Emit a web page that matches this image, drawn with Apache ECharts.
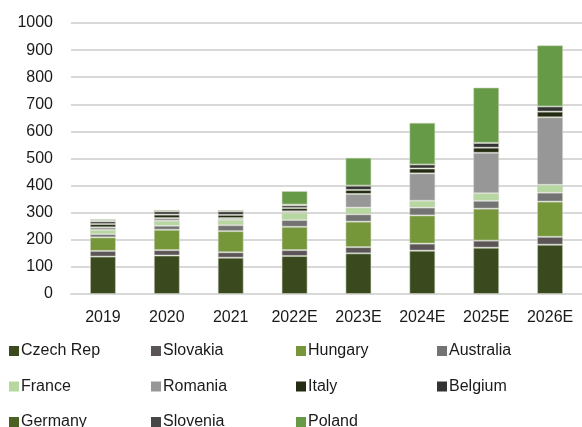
<!DOCTYPE html>
<html>
<head>
<meta charset="utf-8">
<script src="https://cdn.jsdelivr.net/npm/echarts@6/dist/echarts.min.js"></script>
<style>
  html, body { margin: 0; padding: 0; background: #fff; }
  #chart { width: 582px; height: 427px; }
</style>
</head>
<body>
<div id="chart"></div>
<script>
// Years on the category axis
const years = ['2019', '2020', '2021', '2022E', '2023E', '2024E', '2025E', '2026E'];

// Stacked values per country (bottom to top)
const czechRep  = [138, 142, 134, 140, 150, 160, 171, 182];
const slovakia  = [21, 20, 20, 22, 23, 26, 26, 29];
const hungary   = [50, 75, 78, 86, 94, 104, 118, 130];
const australia = [12, 15, 22, 25, 27, 29, 29, 33];
const france    = [15, 18, 20, 27, 25, 25, 28, 29];
const romania   = [10, 10, 6, 5, 50, 101, 149, 249];
const italy     = [12, 13, 12, 12, 15, 18, 19, 21];
const belgium   = [10, 12, 13, 10, 16, 15, 18, 19];
const germany   = [3, 0, 0, 0, 0, 0, 0, 0];
const slovenia  = [2, 0, 0, 3, 0, 0, 0, 0];
const poland    = [4, 5, 5, 50, 103, 154, 204, 226];

// Value axis ticks
const yMin = 0, yMax = 1000, yStep = 100;

const seriesDefs = [
  ['Czech Rep', czechRep,  '#3a4a1e'],
  ['Slovakia',  slovakia,  '#5b5557'],
  ['Hungary',   hungary,   '#76963a'],
  ['Australia', australia, '#737373'],
  ['France',    france,    '#b6d7a0'],
  ['Romania',   romania,   '#979797'],
  ['Italy',     italy,     '#232b12'],
  ['Belgium',   belgium,   '#333333'],
  ['Germany',   germany,   '#4b6123'],
  ['Slovenia',  slovenia,  '#474747'],
  ['Poland',    poland,    '#679a47']
];

const font = '"Liberation Sans", Arial, sans-serif';

const series = seriesDefs.map(([name, data, color]) => ({
  name: name,
  type: 'bar',
  stack: 'total',
  data: data,
  barWidth: 26,
  itemStyle: { color: color, borderColor: 'rgba(205,212,195,0.55)', borderWidth: 1 },
  emphasis: { disabled: true }
}));

// Legend laid out in four columns
const legendCols = [
  { left: 9,   names: ['Czech Rep', 'France', 'Germany'] },
  { left: 151, names: ['Slovakia', 'Romania', 'Slovenia'] },
  { left: 296, names: ['Hungary', 'Italy', 'Poland'] },
  { left: 437, names: ['Australia', 'Belgium'] }
];

const legends = legendCols.map(col => ({
  orient: 'vertical',
  left: col.left,
  top: 343,
  height: 140,
  padding: 0,
  itemWidth: 10,
  itemHeight: 10,
  itemGap: 19.5,
  icon: 'rect',
  selectedMode: false,
  data: col.names,
  itemStyle: { borderWidth: 0 },
  textStyle: { fontFamily: font, fontSize: 16, color: '#1a1a1a', lineHeight: 16, padding: [0, 0, 0, -3] }
}));

const chart = echarts.init(document.getElementById('chart'), null, { renderer: 'canvas' });
chart.setOption({
  animation: false,
  backgroundColor: '#fff',
  legend: legends,
  grid: { left: 71, top: 23, width: 515, height: 271, containLabel: false },
  xAxis: {
    type: 'category',
    data: years,
    axisLine: { show: true, lineStyle: { color: '#d9d9d9', width: 2 } },
    axisTick: { show: false },
    axisLabel: { fontFamily: font, fontSize: 16, color: '#1a1a1a', margin: 16 }
  },
  yAxis: {
    type: 'value',
    min: yMin,
    max: yMax,
    interval: yStep,
    axisLine: { show: false },
    axisTick: { show: false },
    splitLine: { lineStyle: { color: '#d9d9d9', width: 2 } },
    axisLabel: { fontFamily: font, fontSize: 16, color: '#1a1a1a', margin: 18, formatter: v => String(v) }
  },
  series: series
});
</script>
</body>
</html>
